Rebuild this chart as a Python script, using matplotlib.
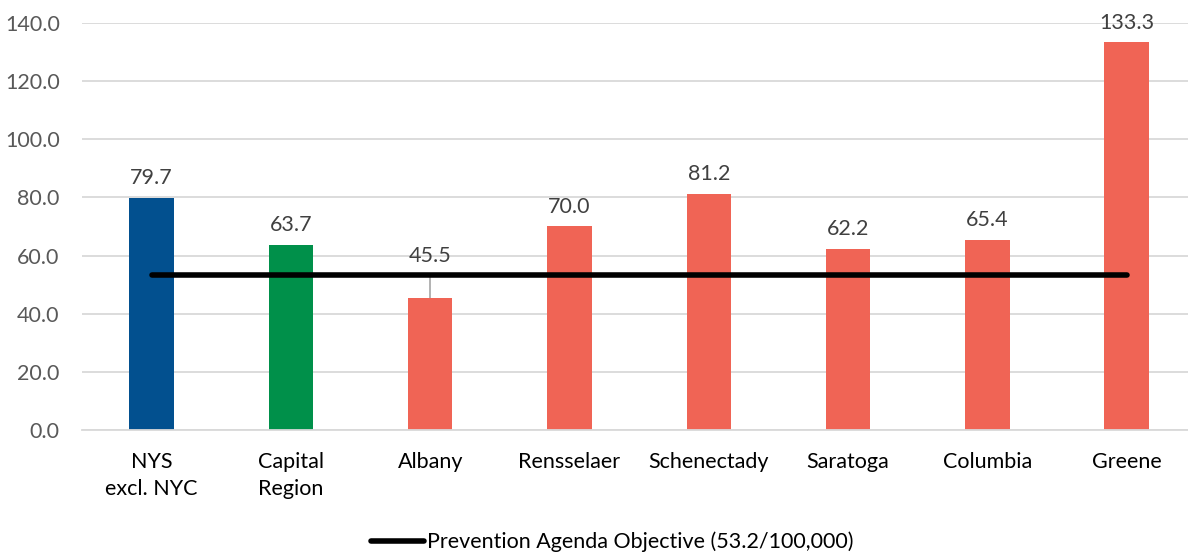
import matplotlib.pyplot as plt
import numpy as np
from matplotlib.lines import Line2D

plt.rcParams['font.family'] = ['Lato', 'DejaVu Sans']

categories = ["NYS\nexcl. NYC", "Capital\nRegion", "Albany", "Rensselaer",
              "Schenectady", "Saratoga", "Columbia", "Greene"]
values = [79.7, 63.7, 45.5, 70.0, 81.2, 62.2, 65.4, 133.3]
bar_colors = ["#02508F", "#00904A", "#F06455", "#F06455",
              "#F06455", "#F06455", "#F06455", "#F06455"]
objective = 53.2
y_ticks = [0, 20, 40, 60, 80, 100, 120, 140]

fs = 15.5

fig = plt.figure(figsize=(11.88, 5.57), dpi=100)
ax = fig.add_axes((0.069, 0.228, 0.938, 0.731))

x = np.arange(len(categories))
ax.bar(x, values, width=0.32, color=bar_colors, zorder=2)

# objective line from first to last bar centre
ax.plot([x[0], x[-1]], [objective, objective], color="black", lw=4,
        solid_capstyle="round", zorder=3)

# value labels
for xi, v in zip(x, values):
    if categories[xi] == "Albany":
        ax.text(xi, 59.8, "{:.1f}".format(v), ha="center", va="center",
                fontsize=fs, color="#404040", zorder=4)
        ax.plot([xi, xi], [objective + 0.5, v], color="#A6A6A6", lw=1.2, zorder=1)
    else:
        ax.annotate("{:.1f}".format(v), (xi, v), xytext=(0, 7),
                    textcoords="offset points", ha="center", va="bottom",
                    fontsize=fs, color="#404040", zorder=4)

ax.set_xlim(-0.5, len(categories) - 0.5)
ax.set_ylim(0, 140)
ax.set_yticks(y_ticks)
ax.set_yticklabels(["{:.1f}".format(t) for t in y_ticks], fontsize=fs, color="#595959")
ax.set_xticks(x)
ax.set_xticklabels(categories, fontsize=fs, color="black", linespacing=1.45)
ax.tick_params(axis="both", length=0)
ax.tick_params(axis="x", pad=16)
ax.tick_params(axis="y", pad=16)

ax.grid(axis="y", color="#D9D9D9", lw=1.3, zorder=0)
ax.set_axisbelow(True)
for side in ["top", "right", "left"]:
    ax.spines[side].set_visible(False)
ax.spines["bottom"].set_color("#D9D9D9")
ax.spines["bottom"].set_linewidth(1.3)

handle = Line2D([0], [0], color="black", lw=4, solid_capstyle="round")
fig.legend([handle], ["Prevention Agenda Objective (53.2/100,000)"],
           loc="center", bbox_to_anchor=(0.515, 0.027), frameon=False,
           fontsize=fs, handlelength=2.5, handletextpad=0.1)

fig.savefig("out.png", dpi=100)
